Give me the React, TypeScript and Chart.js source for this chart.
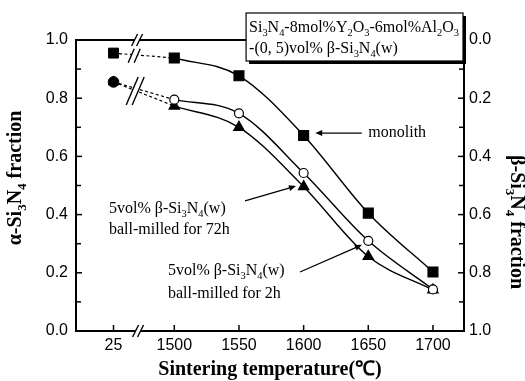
import React, { useEffect, useRef } from "react";
import { Chart, registerables } from "chart.js";
Chart.register(...registerables);

// ---------- data ----------
const TEMPERATURES = [25, 1500, 1550, 1600, 1650, 1700];
const X_TICKS = [25, 1500, 1550, 1600, 1650, 1700];
const MONOLITH = [0.955, 0.938, 0.877, 0.672, 0.405, 0.203];
const MILLED_72H = [0.856, 0.795, 0.748, 0.543, 0.31, 0.143];
const MILLED_2H = [0.856, 0.773, 0.7, 0.496, 0.256, 0.141];
const Y_TICKS = [0, 0.2, 0.4, 0.6, 0.8, 1.0];
const Y_MINOR = [0.1, 0.3, 0.5, 0.7, 0.9];

// broken x axis: axis position used for the 25 °C column
const AXIS_25 = 1453;
const X_MIN = 1424;
const X_MAX = 1724;
const AXIS_BREAK = 1472;
const toAxis = (t: number) => (t === 25 ? AXIS_25 : t);

type Part = [string, boolean];
const SI3N4: Part[] = [["Si", false], ["3", true], ["N", false], ["4", true]];

const SERIF = '"Liberation Serif", "Times New Roman", serif';
const SANS = '"Liberation Sans", Arial, sans-serif';

function fontStr(size: number, weight: string) {
  return `${weight} ${size}px ${SERIF}`;
}
function richWidth(ctx: CanvasRenderingContext2D, parts: Part[], size: number, weight: string) {
  let w = 0;
  for (const [t, sub] of parts) {
    ctx.font = fontStr(sub ? size * 0.65 : size, weight);
    w += ctx.measureText(t).width;
  }
  return w;
}
function drawRich(
  ctx: CanvasRenderingContext2D,
  parts: Part[],
  x: number,
  y: number,
  size: number,
  weight = "normal",
  align: "left" | "center" = "left"
) {
  const w = richWidth(ctx, parts, size, weight);
  let cx = align === "center" ? x - w / 2 : x;
  ctx.textAlign = "left";
  ctx.textBaseline = "alphabetic";
  for (const [t, sub] of parts) {
    const s = sub ? size * 0.65 : size;
    ctx.font = fontStr(s, weight);
    ctx.fillText(t, cx, sub ? y + size * 0.25 : y);
    cx += ctx.measureText(t).width;
  }
}
function seg(ctx: CanvasRenderingContext2D, x1: number, y1: number, x2: number, y2: number) {
  ctx.beginPath();
  ctx.moveTo(x1, y1);
  ctx.lineTo(x2, y2);
  ctx.stroke();
}
function arrow(ctx: CanvasRenderingContext2D, x1: number, y1: number, x2: number, y2: number) {
  ctx.lineWidth = 1.2;
  const ang = Math.atan2(y2 - y1, x2 - x1);
  const L = 7, H = 3;
  seg(ctx, x1, y1, x2 - Math.cos(ang) * L * 0.8, y2 - Math.sin(ang) * L * 0.8);
  ctx.beginPath();
  ctx.moveTo(x2, y2);
  ctx.lineTo(x2 - Math.cos(ang) * L - Math.sin(ang) * H, y2 - Math.sin(ang) * L + Math.cos(ang) * H);
  ctx.lineTo(x2 - Math.cos(ang) * L + Math.sin(ang) * H, y2 - Math.sin(ang) * L - Math.cos(ang) * H);
  ctx.closePath();
  ctx.fill();
}
// break mark: two parallel slashes with a white gap between them
function breakMark(ctx: CanvasRenderingContext2D, x: number, y: number, dx: number, dy: number, gap: number) {
  ctx.fillStyle = "#fff";
  ctx.beginPath();
  ctx.moveTo(x - gap - dx, y + dy);
  ctx.lineTo(x - gap + dx, y - dy);
  ctx.lineTo(x + gap + dx, y - dy);
  ctx.lineTo(x + gap - dx, y + dy);
  ctx.closePath();
  ctx.fill();
  ctx.fillStyle = "#000";
  ctx.lineWidth = 1.4;
  seg(ctx, x - gap - dx, y + dy, x - gap + dx, y - dy);
  seg(ctx, x + gap - dx, y + dy, x + gap + dx, y - dy);
}

const decor = {
  id: "decor",
  afterDraw(chart: any) {
    const { ctx, chartArea: a, scales } = chart;
    const X = (v: number) => scales.x.getPixelForValue(v);
    const Y = (v: number) => scales.y.getPixelForValue(v);
    ctx.save();
    ctx.strokeStyle = "#000";
    ctx.fillStyle = "#000";
    // top frame
    ctx.lineWidth = 2;
    seg(ctx, a.left - 1, a.top, a.right + 1, a.top);
    // inner ticks
    ctx.lineWidth = 1.5;
    for (const v of Y_TICKS) {
      seg(ctx, a.left, Y(v), a.left + 6, Y(v));
      seg(ctx, a.right, Y(v), a.right - 6, Y(v));
    }
    for (const v of Y_MINOR) {
      seg(ctx, a.left, Y(v), a.left + 5, Y(v));
      seg(ctx, a.right, Y(v), a.right - 5, Y(v));
    }
    for (const t of X_TICKS) seg(ctx, X(toAxis(t)), a.bottom, X(toAxis(t)), a.bottom - 6);

    // axis breaks
    const xb = X(AXIS_BREAK);
    breakMark(ctx, xb, a.bottom, 3, 6, 2.5);
    breakMark(ctx, xb - 1, a.top, 3, 6, 2.5);

    // data breaks
    const x0 = X(toAxis(TEMPERATURES[0])), x1 = X(TEMPERATURES[1]);
    const xd = X(AXIS_BREAK - 3);
    const f = (xd - x0) / (x1 - x0);
    const ym = Y(MONOLITH[0]) + (Y(MONOLITH[1]) - Y(MONOLITH[0])) * f;
    breakMark(ctx, xd, ym + 1, 3, 7, 3);
    const y72 = Y(MILLED_72H[0]) + (Y(MILLED_72H[1]) - Y(MILLED_72H[0])) * f;
    const y2h = Y(MILLED_2H[0]) + (Y(MILLED_2H[1]) - Y(MILLED_2H[0])) * f;
    breakMark(ctx, xd + 1, (y72 + y2h) / 2 + 2, 6, 14, 3);

    // composition box
    const bx = X(1555.5), br = a.right - 1, by = a.top - 27, bb = a.top + 21;
    ctx.fillStyle = "#000";
    ctx.fillRect(bx + 3, by + 3, br - bx, bb - by);
    ctx.fillStyle = "#fff";
    ctx.fillRect(bx, by, br - bx, bb - by);
    ctx.lineWidth = 1.2;
    ctx.strokeRect(bx, by, br - bx, bb - by);
    ctx.fillStyle = "#000";
    drawRich(
      ctx,
      [...SI3N4, ["-8mol%Y", false], ["2", true], ["O", false], ["3", true], ["-6mol%Al", false], ["2", true], ["O", false], ["3", true]],
      bx + 3, by + 19, 16
    );
    drawRich(ctx, [["-(0, 5)vol% β-", false], ...SI3N4, ["(w)", false]], bx + 3, by + 40, 16);

    // annotations
    drawRich(ctx, [["monolith", false]], X(1650), Y(0.667), 16);
    arrow(ctx, X(1645), Y(0.68), X(1609), Y(0.68));

    drawRich(ctx, [["5vol% β-", false], ...SI3N4, ["(w)", false]], X(1449.5), Y(0.407), 16);
    drawRich(ctx, [["ball-milled for 72h", false]], X(1449.5), Y(0.332), 16);
    arrow(ctx, X(1554.7), Y(0.447), X(1594.1), Y(0.498));

    drawRich(ctx, [["5vol% β-", false], ...SI3N4, ["(w)", false]], X(1495.1), Y(0.194), 16);
    drawRich(ctx, [["ball-milled for 2h", false]], X(1495.1), Y(0.115), 16);
    arrow(ctx, X(1597.2), Y(0.203), X(1645.1), Y(0.296));

    // axis titles
    drawRich(ctx, [["Sintering temperature(℃)", false]], (a.left + a.right) / 2, 375, 20, "bold", "center");
    ctx.save();
    ctx.translate(21, 178);
    ctx.rotate(-Math.PI / 2);
    drawRich(ctx, [["α-", false], ...SI3N4, [" fraction", false]], 0, 0, 20, "bold", "center");
    ctx.restore();
    ctx.save();
    ctx.translate(511, 222);
    ctx.rotate(Math.PI / 2);
    drawRich(ctx, [["β-", false], ...SI3N4, [" fraction", false]], 0, 0, 20, "bold", "center");
    ctx.restore();
    ctx.restore();
  },
};

export default function App() {
  const ref = useRef<HTMLCanvasElement | null>(null);
  useEffect(() => {
    if (!ref.current) return;
    const series = [
      { values: MONOLITH, style: "rect", radius: 7, bg: "#000", bg25: "#000" },
      { values: MILLED_72H, style: "circle", radius: 4.5, bg: "#fff", bg25: "#000" },
      { values: MILLED_2H, style: "triangle", radius: 6, bg: "#000", bg25: "#000" },
    ];
    const solid = series.map((s) => ({
      data: TEMPERATURES.slice(1).map((t, i) => ({ x: toAxis(t), y: s.values[i + 1] })),
      borderColor: "#000",
      borderWidth: 1.4,
      pointStyle: s.style,
      pointRadius: s.radius,
      pointBackgroundColor: s.bg,
      pointBorderColor: "#000",
      pointBorderWidth: 1.2,
      cubicInterpolationMode: "monotone",
      tension: 0.4,
      fill: false,
    }));
    const dashed = series.map((s) => ({
      data: TEMPERATURES.slice(0, 2).map((t, i) => ({ x: toAxis(t), y: s.values[i] })),
      borderColor: "#000",
      borderWidth: 1.2,
      borderDash: [3, 2.5],
      pointStyle: s.style,
      pointRadius: [s.radius + (s.style === "circle" ? 0.8 : 0), 0],
      pointBackgroundColor: s.bg25,
      pointBorderColor: "#000",
      pointBorderWidth: 1,
      tension: 0,
      fill: false,
    }));
    const tickFont = { family: SANS, size: 16 };
    const chart = new Chart(ref.current, {
      type: "line",
      data: { datasets: [...solid, ...dashed] as any },
      plugins: [decor],
      options: {
        animation: false,
        responsive: false,
        devicePixelRatio: 1,
        layout: { padding: { top: 40, left: 0, right: 0, bottom: 0 } },
        plugins: { legend: { display: false }, tooltip: { enabled: false } },
        scales: {
          x: {
            type: "linear",
            min: X_MIN,
            max: X_MAX,
            afterBuildTicks: (s: any) => {
              s.ticks = X_TICKS.map((t) => ({ value: toAxis(t) }));
            },
            afterFit: (s: any) => {
              s.height = 50;
            },
            grid: { display: false, drawTicks: false },
            border: { display: true, color: "#000", width: 2 },
            ticks: {
              autoSkip: false,
              maxRotation: 0,
              padding: 5,
              color: "#000",
              font: tickFont,
              callback: (v: any) => (v === AXIS_25 ? "25" : String(v)),
            },
          },
          y: {
            type: "linear",
            position: "left",
            min: 0,
            max: 1,
            afterBuildTicks: (s: any) => {
              s.ticks = Y_TICKS.map((v) => ({ value: v }));
            },
            afterFit: (s: any) => {
              s.width = 76;
            },
            grid: { display: false, drawTicks: false },
            border: { display: true, color: "#000", width: 2 },
            ticks: { padding: 8, color: "#000", font: tickFont, callback: (v: any) => Number(v).toFixed(1) },
          },
          y2: {
            type: "linear",
            position: "right",
            reverse: true,
            min: 0,
            max: 1,
            afterBuildTicks: (s: any) => {
              s.ticks = Y_TICKS.map((v) => ({ value: v }));
            },
            afterFit: (s: any) => {
              s.width = 61;
            },
            grid: { display: false, drawTicks: false },
            border: { display: true, color: "#000", width: 2 },
            ticks: { padding: 5, color: "#000", font: tickFont, callback: (v: any) => Number(v).toFixed(1) },
          },
        },
      } as any,
    });
    return () => chart.destroy();
  }, []);
  return (
    <div style={{ position: "absolute", left: 0, top: 0, width: 525, height: 381, background: "#fff" }}>
      <canvas ref={ref} width={525} height={381} style={{ display: "block" }} />
    </div>
  );
}
